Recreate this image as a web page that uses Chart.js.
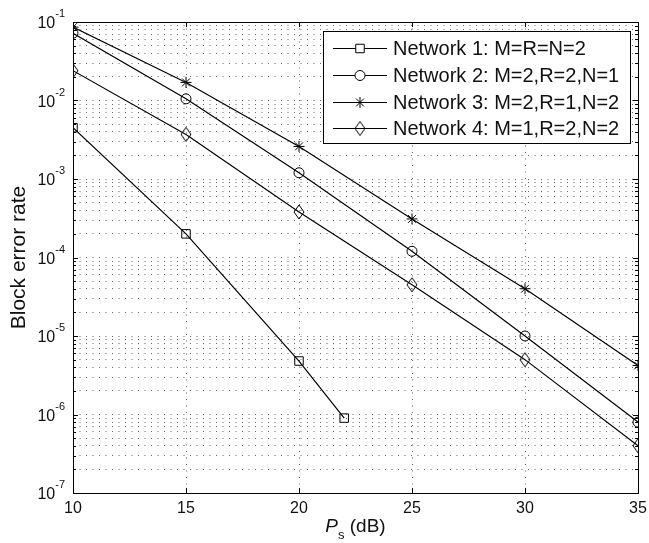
<!DOCTYPE html>
<html>
<head>
<meta charset="utf-8">
<script src="https://cdn.jsdelivr.net/npm/chart.js@4.4.1/dist/chart.umd.min.js"></script>
<style>
  html, body { margin: 0; padding: 0; background: #fff; }
  #wrap { width: 649px; height: 543px; }
</style>
</head>
<body>
<div id="wrap"><canvas id="myChart" width="649" height="543"></canvas></div>
<script>
// SNR points (dB)
const snr = [10, 15, 20, 25, 30, 35];
const snrNet1 = [10, 15, 20, 22];

// block error rate
const net1 = [4.5e-3, 2.0e-4, 4.8e-6, 9.0e-7];
const net2 = [7.2e-2, 1.05e-2, 1.2e-3, 1.2e-4, 1.0e-5, 8.0e-7];
const net3 = [8.6e-2, 1.7e-2, 2.6e-3, 3.1e-4, 4.0e-5, 4.2e-6];
const net4 = [2.4e-2, 3.7e-3, 3.8e-4, 4.5e-5, 5.0e-6, 4.0e-7];

const seriesLabels = [
  'Network 1: M=R=N=2',
  'Network 2: M=2,R=2,N=1',
  'Network 3: M=2,R=1,N=2',
  'Network 4: M=1,R=2,N=2'
];

const xTicks = [10, 15, 20, 25, 30, 35];
const yExponents = [-7, -6, -5, -4, -3, -2, -1];

const FONT = '"Liberation Sans", Arial, Helvetica, sans-serif';

// log ticks: 1..9 x 10^e, labels only on decades
const yTickValues = [];
for (let e = -7; e < -1; e++) {
  for (let m = 1; m < 10; m++) yTickValues.push(m * Math.pow(10, e));
}
yTickValues.push(0.1);

function diamondMarker(w, h) {
  const c = document.createElement('canvas');
  c.width = w + 2;
  c.height = h + 2;
  const g = c.getContext('2d');
  g.strokeStyle = '#000';
  g.lineWidth = 1;
  g.beginPath();
  g.moveTo(c.width / 2, 1);
  g.lineTo(c.width - 1, c.height / 2);
  g.lineTo(c.width / 2, c.height - 1);
  g.lineTo(1, c.height / 2);
  g.closePath();
  g.stroke();
  return c;
}

const pts = (xs, ys) => ys.map((v, i) => ({ x: xs[i], y: v }));

function series(label, xs, ys, style, radius) {
  return {
    label: label,
    data: pts(xs, ys),
    borderColor: '#000',
    borderWidth: 1.2,
    backgroundColor: 'rgba(0,0,0,0)',
    pointStyle: style,
    pointRadius: radius,
    pointBorderColor: '#000',
    pointBackgroundColor: 'rgba(0,0,0,0)',
    pointBorderWidth: 1,
    tension: 0,
    fill: false
  };
}

const datasets = [
  series(seriesLabels[0], snrNet1, net1, 'rect', 6),
  series(seriesLabels[1], snr, net2, 'circle', 5),
  series(seriesLabels[2], snr, net3, 'star', 5.5),
  series(seriesLabels[3], snr, net4, diamondMarker(10, 14), 6)
];

const isDecade = v => Math.abs(Math.log10(v) - Math.round(Math.log10(v))) < 1e-6;

const frame = {
  id: 'frame',
  afterDraw(chart) {
    const { ctx, chartArea: a, scales: { x, y } } = chart;
    const L = Math.round(a.left), R = Math.round(a.right), T = Math.round(a.top), B = Math.round(a.bottom);
    ctx.save();
    ctx.setLineDash([]);
    ctx.strokeStyle = '#000';
    ctx.lineWidth = 1;

    // inward tick marks
    ctx.beginPath();
    xTicks.forEach(v => {
      const px = Math.round(x.getPixelForValue(v)) + 0.5;
      ctx.moveTo(px, B); ctx.lineTo(px, B - 5);
      ctx.moveTo(px, T); ctx.lineTo(px, T + 5);
    });
    yTickValues.forEach(v => {
      const py = Math.round(y.getPixelForValue(v)) + 0.5;
      const len = isDecade(v) ? 5 : 3;
      ctx.moveTo(L, py); ctx.lineTo(L + len, py);
      ctx.moveTo(R, py); ctx.lineTo(R - len, py);
    });
    ctx.stroke();

    // box
    ctx.strokeRect(L + 0.5, T + 0.5, R - L, B - T);

    ctx.fillStyle = '#111';

    // x tick labels
    ctx.font = '16px ' + FONT;
    ctx.textAlign = 'center';
    ctx.textBaseline = 'alphabetic';
    xTicks.forEach(v => {
      ctx.fillText(String(v), x.getPixelForValue(v), B + 20);
    });

    // y tick labels 10^e
    yExponents.forEach(e => {
      const py = y.getPixelForValue(Math.pow(10, e));
      const sup = String(e);
      ctx.font = '11px ' + FONT;
      const ew = ctx.measureText(sup).width;
      ctx.textAlign = 'left';
      const sx = L - 8 - ew;
      ctx.fillText(sup, sx, py - 5);
      ctx.font = '16px ' + FONT;
      ctx.textAlign = 'right';
      ctx.fillText('10', sx, py + 6);
    });

    // y title
    ctx.save();
    ctx.translate(25, (T + B) / 2);
    ctx.rotate(-Math.PI / 2);
    ctx.font = '21px ' + FONT;
    ctx.textAlign = 'center';
    ctx.fillText('Block error rate', 0, 0);
    ctx.restore();

    // x title: P_s (dB)
    ctx.textAlign = 'left';
    ctx.font = 'italic 19px ' + FONT;
    const pW = ctx.measureText('P').width;
    ctx.font = '13px ' + FONT;
    const sW = ctx.measureText('s').width;
    ctx.font = '19px ' + FONT;
    const dW = ctx.measureText(' (dB)').width;
    let tx = (L + R) / 2 - (pW + sW + dW) / 2;
    const ty = 532;
    ctx.font = 'italic 19px ' + FONT;
    ctx.fillText('P', tx, ty);
    tx += pW;
    ctx.font = '13px ' + FONT;
    ctx.fillText('s', tx, ty + 7);
    tx += sW;
    ctx.font = '19px ' + FONT;
    ctx.fillText(' (dB)', tx, ty);

    // legend box
    const lx = 323, ly = 31, lw = 307, lh = 112;
    ctx.fillStyle = '#fff';
    ctx.fillRect(lx, ly, lw, lh);
    ctx.strokeStyle = '#000';
    ctx.lineWidth = 1;
    ctx.strokeRect(lx + 0.5, ly + 0.5, lw, lh);
    const rows = [48, 75, 102, 128];
    chart.data.datasets.forEach((ds, i) => {
      const cy = rows[i] + 0.5;
      ctx.strokeStyle = '#000';
      ctx.lineWidth = 1.2;
      ctx.beginPath();
      ctx.moveTo(333, cy);
      ctx.lineTo(387, cy);
      ctx.stroke();
      ctx.fillStyle = '#fff';
      ctx.lineWidth = 1;
      Chart.helpers.drawPoint(ctx, {
        pointStyle: ds.pointStyle,
        radius: ds.pointRadius,
        borderWidth: 1,
        rotation: 0
      }, 360, cy);
      ctx.fillStyle = '#111';
      ctx.font = '20px ' + FONT;
      ctx.textAlign = 'left';
      ctx.textBaseline = 'middle';
      ctx.fillText(ds.label, 393, cy + 1);
      ctx.textBaseline = 'alphabetic';
    });
    ctx.restore();
  }
};

const ctx = document.getElementById('myChart');

const myChart = new Chart(ctx, {
  type: 'line',
  data: { datasets: datasets },
  options: {
    responsive: false,
    animation: false,
    events: [],
    layout: { padding: { left: 73, right: 11, top: 22, bottom: 50 } },
    plugins: {
      legend: { display: false },
      tooltip: { enabled: false }
    },
    scales: {
      x: {
        type: 'linear',
        min: 10,
        max: 35,
        afterBuildTicks: s => { s.ticks = xTicks.map(v => ({ value: v })); },
        ticks: { display: false },
        grid: { color: '#666', lineWidth: 1, drawTicks: false },
        border: { display: false, dash: [1, 5.5] }
      },
      y: {
        type: 'logarithmic',
        min: 1e-7,
        max: 1e-1,
        afterBuildTicks: s => { s.ticks = yTickValues.map(v => ({ value: v })); },
        ticks: { display: false },
        grid: { color: '#666', lineWidth: 1, drawTicks: false },
        border: { display: false, dash: [1, 5.5] }
      }
    }
  },
  plugins: [frame]
});
</script>
</body>
</html>
